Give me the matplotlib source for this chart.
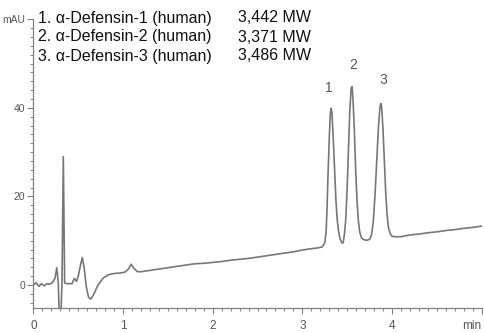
import matplotlib
matplotlib.use("Agg")
import matplotlib.pyplot as plt
from matplotlib.ticker import MultipleLocator, FixedLocator

# Chromatogram trace (time in min, absorbance in mAU)
time_min = [
    0.00, 0.03, 0.06, 0.09, 0.12, 0.15, 0.18, 0.21, 0.24, 0.26, 0.277,
    0.288, 0.305, 0.318, 0.333, 0.348, 0.37, 0.40, 0.43, 0.456, 0.48,
    0.50, 0.525, 0.545, 0.565, 0.59, 0.615, 0.64, 0.67, 0.72, 0.78, 0.836,
    0.90, 0.96, 1.02, 1.06, 1.09, 1.12, 1.16, 1.20, 1.30, 1.40, 1.50,
    1.60, 1.70, 1.80, 1.90, 2.00, 2.10, 2.20, 2.30, 2.40, 2.50, 2.60,
    2.70, 2.80, 2.90, 3.00, 3.10, 3.18, 3.22, 3.25, 3.265, 3.275, 3.285,
    3.30, 3.31, 3.32, 3.33, 3.345, 3.36, 3.375, 3.39, 3.405, 3.42, 3.44,
    3.455, 3.47, 3.485, 3.50, 3.515, 3.53, 3.545, 3.555, 3.565, 3.58, 3.595,
    3.61, 3.625, 3.64, 3.66, 3.69, 3.72, 3.75, 3.77, 3.79, 3.81, 3.83,
    3.85, 3.865, 3.875, 3.885, 3.90, 3.915, 3.93, 3.945, 3.96, 3.98, 4.00,
    4.04, 4.10, 4.20, 4.30, 4.40, 4.50, 4.60, 4.70, 4.80, 4.90, 5.00,
]
absorbance = [
    0.0, 0.5, -0.3, 0.3, -0.2, 0.3, 0.2, 0.5, 1.5, 3.9, 0.4,
    -7.0, -7.0, 0.0, 29.0, 0.5, 0.3, 0.3, 0.3, 1.5, 0.8,
    2.0, 4.5, 6.2, 4.0, -0.5, -2.8, -3.2, -2.2, 0.0, 1.6, 2.3,
    2.6, 2.7, 2.9, 3.6, 4.7, 3.8, 3.0, 3.0, 3.3, 3.6, 3.9,
    4.2, 4.5, 4.8, 4.9, 5.1, 5.3, 5.6, 5.8, 6.0, 6.3, 6.6,
    6.9, 7.2, 7.5, 7.9, 8.2, 8.4, 8.6, 9.5, 12.0, 17.0, 24.0,
    33.0, 38.0, 39.9, 39.0, 33.0, 26.0, 19.0, 14.5, 12.0, 10.5, 9.5,
    9.5, 11.5, 15.0, 22.0, 31.0, 39.5, 44.5, 44.8, 42.0, 35.0, 26.0,
    19.0, 14.5, 12.0, 10.6, 10.2, 10.1, 10.3, 11.2, 14.0, 20.0, 28.0,
    36.0, 40.0, 41.0, 40.2, 35.0, 28.0, 21.0, 16.0, 13.0, 11.6, 11.0,
    10.9, 10.9, 11.3, 11.5, 11.8, 12.0, 12.3, 12.5, 12.8, 13.0, 13.3,
]

peak_labels = ["1", "2", "3"]
peak_label_x = [3.30, 3.57, 3.90]
peak_label_y = [44.5, 49.7, 46.3]

legend_names = ["1. \u03b1-Defensin-1 (human)",
                "2. \u03b1-Defensin-2 (human)",
                "3. \u03b1-Defensin-3 (human)"]
legend_mw = ["3,442 MW", "3,371 MW", "3,486 MW"]

x_ticks = [0, 1, 2, 3, 4, 5]
x_ticklabels = ["0", "1", "2", "3", "4", "min"]
y_ticks = [0, 20, 40, 60]
y_ticklabels = ["0", "20", "40", "mAU"]

plt.rcParams['font.family'] = ['Liberation Sans', 'DejaVu Sans']

fig = plt.figure(figsize=(4.85, 3.33), dpi=100)
ax = fig.add_axes([0.069, 0.075, 0.924, 0.867])

ax.plot(time_min, absorbance, color='#777777', lw=1.2, solid_joinstyle='round')

ax.set_xlim(0, 5.0)
ax.set_ylim(-5.2, 60)

for s in ['top', 'right']:
    ax.spines[s].set_visible(False)
for s in ['left', 'bottom']:
    ax.spines[s].set_color('#808080')
    ax.spines[s].set_linewidth(0.9)

ax.xaxis.set_major_locator(FixedLocator(x_ticks))
ax.set_xticklabels(x_ticklabels)
ax.xaxis.set_minor_locator(MultipleLocator(0.1))
ax.yaxis.set_major_locator(FixedLocator(y_ticks))
ax.set_yticklabels(y_ticklabels)
ax.yaxis.set_minor_locator(MultipleLocator(2))

ax.tick_params(axis='both', which='major', length=4, width=0.8, color='#808080',
               labelcolor='#555555')
ax.tick_params(axis='both', which='minor', length=2, width=0.7, color='#808080')
ax.tick_params(axis='x', which='major', pad=4.5, labelsize=8.5)
ax.tick_params(axis='y', which='major', pad=2, labelsize=7.5)

# keep the unit label at the right end inside the figure
ax.get_xticklabels()[-1].set_horizontalalignment('right')

for lab, px, py in zip(peak_labels, peak_label_x, peak_label_y):
    ax.text(px, py, lab, ha='center', va='center', fontsize=10, color='#555555')

for i, (nm, mw) in enumerate(zip(legend_names, legend_mw)):
    yy = 1 - (18 + 19 * i) / 333
    fig.text(38 / 485, yy, nm, ha='left', va='center', fontsize=11.5, color='#111111')
    fig.text(238 / 485, yy, mw, ha='left', va='center', fontsize=11.5, color='#111111')

fig.savefig("out.png", dpi=100)
